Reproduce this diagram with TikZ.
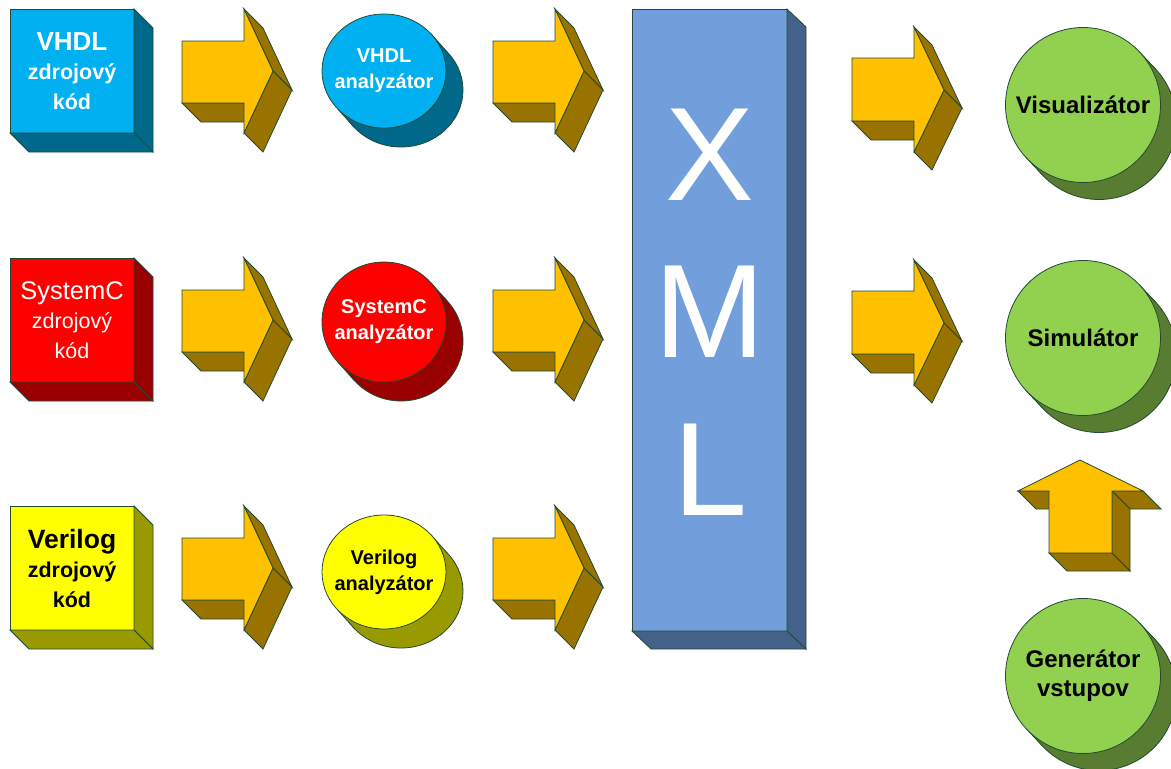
\documentclass[tikz,border=0pt]{standalone}
\usepackage{fontspec}
\setmainfont{Liberation Sans}
\usepackage{xcolor}
\usetikzlibrary{calc}

\definecolor{lineclr}{RGB}{34,74,52}
\definecolor{vhdlfill}{RGB}{0,176,240}
\definecolor{vhdlside}{RGB}{0,104,139}
\definecolor{scfill}{RGB}{255,0,0}
\definecolor{scside}{RGB}{153,0,0}
\definecolor{vlgfill}{RGB}{255,255,0}
\definecolor{vlgside}{RGB}{153,153,0}
\definecolor{arrfill}{RGB}{255,192,0}
\definecolor{arrside}{RGB}{153,115,0}
\definecolor{xmlfill}{RGB}{114,159,219}
\definecolor{xmlside}{RGB}{68,97,137}
\definecolor{grnfill}{RGB}{146,208,80}
\definecolor{grnside}{RGB}{88,125,48}

\begin{document}
\begin{tikzpicture}[x=1pt,y=-1pt]
		\tikzstyle{every node}+=[inner sep=0pt, outer sep=0pt]
		\tikzstyle{edge}=[draw=lineclr, line width=0.8pt]
		\tikzstyle{arrface}=[edge, fill=arrside]
		\tikzstyle{arrfront}=[edge, fill=arrfill]
		\tikzstyle{srcbox}=[edge, minimum width=124pt, minimum height=124pt, align=center, font=\fontsize{21.5}{29.5}\selectfont]
		\tikzstyle{srcboxbf}=[srcbox, font=\bfseries\fontsize{21.5}{29.5}\selectfont]
		\tikzstyle{anlabel}=[align=center, font=\bfseries\fontsize{20}{26}\selectfont]
		\tikzstyle{outlabel}=[align=center, font=\bfseries\fontsize{24}{29}\selectfont]
		\useasboundingbox (0,0) rectangle (1171,769);
		% source boxes
		\node [srcboxbf, fill=vhdlfill, text=white] (vhdlsrc) at (72,71) {{\fontsize{26}{29.5}\selectfont VHDL}\\zdrojový\\kód};
		\draw [edge, fill=vhdlside] (vhdlsrc.north east) -- ++(19,19) -- ($(vhdlsrc.south east)+(19,19)$) -- (vhdlsrc.south east) -- cycle;
		\draw [edge, fill=vhdlside] (vhdlsrc.south west) -- (vhdlsrc.south east) -- ++(19,19) -- ($(vhdlsrc.south west)+(19,19)$) -- cycle;
		\node [srcbox, fill=scfill, text=white] (scsrc) at (72,320) {{\fontsize{25.5}{29.5}\selectfont SystemC}\\zdrojový\\kód};
		\draw [edge, fill=scside] (scsrc.north east) -- ++(19,19) -- ($(scsrc.south east)+(19,19)$) -- (scsrc.south east) -- cycle;
		\draw [edge, fill=scside] (scsrc.south west) -- (scsrc.south east) -- ++(19,19) -- ($(scsrc.south west)+(19,19)$) -- cycle;
		\node [srcboxbf, fill=vlgfill, text=black] (vlgsrc) at (72,568) {{\fontsize{26.5}{29.5}\selectfont Verilog}\\zdrojový\\kód};
		\draw [edge, fill=vlgside] (vlgsrc.north east) -- ++(19,19) -- ($(vlgsrc.south east)+(19,19)$) -- (vlgsrc.south east) -- cycle;
		\draw [edge, fill=vlgside] (vlgsrc.south west) -- (vlgsrc.south east) -- ++(19,19) -- ($(vlgsrc.south west)+(19,19)$) -- cycle;
		% block arrows, first column
		\draw [arrface, shift={(182,9)}] (0,94) -- (62,94) -- (81,113) -- (19,113) -- cycle;
		\draw [arrface, shift={(182,9)}] (62,0) -- (91,62) -- (110,81) -- (81,19) -- cycle;
		\draw [arrface, shift={(182,9)}] (91,62) -- (62,124) -- (81,143) -- (110,81) -- cycle;
		\draw [arrfront, shift={(182,9)}] (0,32) -- (62,32) -- (62,0) -- (91,62) -- (62,124) -- (62,94) -- (0,94) -- cycle;
		\draw [arrface, shift={(182,258)}] (0,94) -- (62,94) -- (81,113) -- (19,113) -- cycle;
		\draw [arrface, shift={(182,258)}] (62,0) -- (91,62) -- (110,81) -- (81,19) -- cycle;
		\draw [arrface, shift={(182,258)}] (91,62) -- (62,124) -- (81,143) -- (110,81) -- cycle;
		\draw [arrfront, shift={(182,258)}] (0,32) -- (62,32) -- (62,0) -- (91,62) -- (62,124) -- (62,94) -- (0,94) -- cycle;
		\draw [arrface, shift={(182,506)}] (0,94) -- (62,94) -- (81,113) -- (19,113) -- cycle;
		\draw [arrface, shift={(182,506)}] (62,0) -- (91,62) -- (110,81) -- (81,19) -- cycle;
		\draw [arrface, shift={(182,506)}] (91,62) -- (62,124) -- (81,143) -- (110,81) -- cycle;
		\draw [arrfront, shift={(182,506)}] (0,32) -- (62,32) -- (62,0) -- (91,62) -- (62,124) -- (62,94) -- (0,94) -- cycle;
		% analyzers
		\coordinate (vhdlc) at (384,71);
		\draw [edge, fill=vhdlside] ($(vhdlc)+(17,19)$) ellipse [x radius=62, y radius=57];
		\fill [vhdlside] ($(vhdlc)+(-41.8:62 and 57)$) -- ++(17,19) -- ($(vhdlc)+(138.2:62 and 57)+(17,19)$) -- ($(vhdlc)+(138.2:62 and 57)$) -- cycle;
		\draw [edge] ($(vhdlc)+(-41.8:62 and 57)$) -- ++(17,19) ($(vhdlc)+(138.2:62 and 57)$) -- ++(17,19);
		\draw [edge, fill=vhdlfill] (vhdlc) ellipse [x radius=62, y radius=57];
		\node [anlabel, text=white] (vhdlan) at (vhdlc) {VHDL\\analyzátor};
		\coordinate (scc) at (384,322);
		\draw [edge, fill=scside] ($(scc)+(17,19)$) ellipse [x radius=62, y radius=60];
		\fill [scside] ($(scc)+(-41.8:62 and 60)$) -- ++(17,19) -- ($(scc)+(138.2:62 and 60)+(17,19)$) -- ($(scc)+(138.2:62 and 60)$) -- cycle;
		\draw [edge] ($(scc)+(-41.8:62 and 60)$) -- ++(17,19) ($(scc)+(138.2:62 and 60)$) -- ++(17,19);
		\draw [edge, fill=scfill] (scc) ellipse [x radius=62, y radius=60];
		\node [anlabel, text=white] (scan) at (scc) {SystemC\\analyzátor};
		\coordinate (vlgc) at (384,572);
		\draw [edge, fill=vlgside] ($(vlgc)+(17,19)$) ellipse [x radius=62, y radius=57];
		\fill [vlgside] ($(vlgc)+(-41.8:62 and 57)$) -- ++(17,19) -- ($(vlgc)+(138.2:62 and 57)+(17,19)$) -- ($(vlgc)+(138.2:62 and 57)$) -- cycle;
		\draw [edge] ($(vlgc)+(-41.8:62 and 57)$) -- ++(17,19) ($(vlgc)+(138.2:62 and 57)$) -- ++(17,19);
		\draw [edge, fill=vlgfill] (vlgc) ellipse [x radius=62, y radius=57];
		\node [anlabel, text=black] (vlgan) at (vlgc) {Verilog\\analyzátor};
		% block arrows, second column
		\draw [arrface, shift={(493,9)}] (0,94) -- (62,94) -- (81,113) -- (19,113) -- cycle;
		\draw [arrface, shift={(493,9)}] (62,0) -- (91,62) -- (110,81) -- (81,19) -- cycle;
		\draw [arrface, shift={(493,9)}] (91,62) -- (62,124) -- (81,143) -- (110,81) -- cycle;
		\draw [arrfront, shift={(493,9)}] (0,32) -- (62,32) -- (62,0) -- (91,62) -- (62,124) -- (62,94) -- (0,94) -- cycle;
		\draw [arrface, shift={(493,258)}] (0,94) -- (62,94) -- (81,113) -- (19,113) -- cycle;
		\draw [arrface, shift={(493,258)}] (62,0) -- (91,62) -- (110,81) -- (81,19) -- cycle;
		\draw [arrface, shift={(493,258)}] (91,62) -- (62,124) -- (81,143) -- (110,81) -- cycle;
		\draw [arrfront, shift={(493,258)}] (0,32) -- (62,32) -- (62,0) -- (91,62) -- (62,124) -- (62,94) -- (0,94) -- cycle;
		\draw [arrface, shift={(493,506)}] (0,94) -- (62,94) -- (81,113) -- (19,113) -- cycle;
		\draw [arrface, shift={(493,506)}] (62,0) -- (91,62) -- (110,81) -- (81,19) -- cycle;
		\draw [arrface, shift={(493,506)}] (91,62) -- (62,124) -- (81,143) -- (110,81) -- cycle;
		\draw [arrfront, shift={(493,506)}] (0,32) -- (62,32) -- (62,0) -- (91,62) -- (62,124) -- (62,94) -- (0,94) -- cycle;
		% XML block
		\node [edge, fill=xmlfill, minimum width=155pt, minimum height=622pt] (xml) at (709.5,320) {};
		\draw [edge, fill=xmlside] (xml.north east) -- ++(19,18) -- ($(xml.south east)+(19,18)$) -- (xml.south east) -- cycle;
		\draw [edge, fill=xmlside] (xml.south west) -- (xml.south east) -- ++(19,18) -- ($(xml.south west)+(19,18)$) -- cycle;
		\node [text=white, font=\fontsize{133}{133}\selectfont] (xmlx) at (710,154.5) {X};
		\node [text=white, font=\fontsize{133}{133}\selectfont] (xmlm) at (710,311.5) {M};
		\node [text=white, font=\fontsize{133}{133}\selectfont] (xmll) at (710,469.5) {L};
		% block arrows, third column
		\draw [arrface, shift={(852,27)}] (0,94) -- (62,94) -- (81,113) -- (19,113) -- cycle;
		\draw [arrface, shift={(852,27)}] (62,0) -- (92,63) -- (110,81) -- (80,18) -- cycle;
		\draw [arrface, shift={(852,27)}] (92,63) -- (62,125) -- (80,143) -- (110,81) -- cycle;
		\draw [arrfront, shift={(852,27)}] (0,31) -- (62,31) -- (62,0) -- (92,63) -- (62,125) -- (62,94) -- (0,94) -- cycle;
		\draw [arrface, shift={(852,260)}] (0,94) -- (62,94) -- (81,113) -- (19,113) -- cycle;
		\draw [arrface, shift={(852,260)}] (62,0) -- (92,63) -- (110,81) -- (80,18) -- cycle;
		\draw [arrface, shift={(852,260)}] (92,63) -- (62,125) -- (80,143) -- (110,81) -- cycle;
		\draw [arrfront, shift={(852,260)}] (0,31) -- (62,31) -- (62,0) -- (92,63) -- (62,125) -- (62,94) -- (0,94) -- cycle;
		% output tools
		\coordinate (visc) at (1083,105);
		\draw [edge, fill=grnside] ($(visc)+(16,17)$) circle [radius=77.5];
		\fill [grnside] ($(visc)+(-43:77.5)$) -- ++(16,17) -- ($(visc)+(137:77.5)+(16,17)$) -- ($(visc)+(137:77.5)$) -- cycle;
		\draw [edge] ($(visc)+(-43:77.5)$) -- ++(16,17) ($(visc)+(137:77.5)$) -- ++(16,17);
		\draw [edge, fill=grnfill] (visc) circle [radius=77.5];
		\node [outlabel] (vis) at (visc) {Visualizátor};
		\coordinate (simc) at (1083,338);
		\draw [edge, fill=grnside] ($(simc)+(16,17)$) circle [radius=77.5];
		\fill [grnside] ($(simc)+(-43:77.5)$) -- ++(16,17) -- ($(simc)+(137:77.5)+(16,17)$) -- ($(simc)+(137:77.5)$) -- cycle;
		\draw [edge] ($(simc)+(-43:77.5)$) -- ++(16,17) ($(simc)+(137:77.5)$) -- ++(16,17);
		\draw [edge, fill=grnfill] (simc) circle [radius=77.5];
		\node [outlabel] (sim) at (simc) {Simulátor};
		\coordinate (genc) at (1083,676);
		\draw [edge, fill=grnside] ($(genc)+(16,17)$) circle [radius=77.5];
		\fill [grnside] ($(genc)+(-43:77.5)$) -- ++(16,17) -- ($(genc)+(137:77.5)+(16,17)$) -- ($(genc)+(137:77.5)$) -- cycle;
		\draw [edge] ($(genc)+(-43:77.5)$) -- ++(16,17) ($(genc)+(137:77.5)$) -- ++(16,17);
		\draw [edge, fill=grnfill] (genc) circle [radius=77.5];
		\node [outlabel] (gen) at (genc) {Generátor\\vstupov};
		% up arrow
		\draw [arrface, shift={(1018,460)}] (0,31) -- (31,31) -- (49,49) -- (18,49) -- cycle;
		\draw [arrface, shift={(1018,460)}] (94,31) -- (125,31) -- (143,49) -- (112,49) -- cycle;
		\draw [arrface, shift={(1018,460)}] (94,31) -- (112,49) -- (112,111) -- (94,93) -- cycle;
		\draw [arrface, shift={(1018,460)}] (31,93) -- (94,93) -- (112,111) -- (49,111) -- cycle;
		\draw [arrfront, shift={(1018,460)}] (62,0) -- (125,31) -- (94,31) -- (94,93) -- (31,93) -- (31,31) -- (0,31) -- cycle;
	\end{tikzpicture}
\end{document}
